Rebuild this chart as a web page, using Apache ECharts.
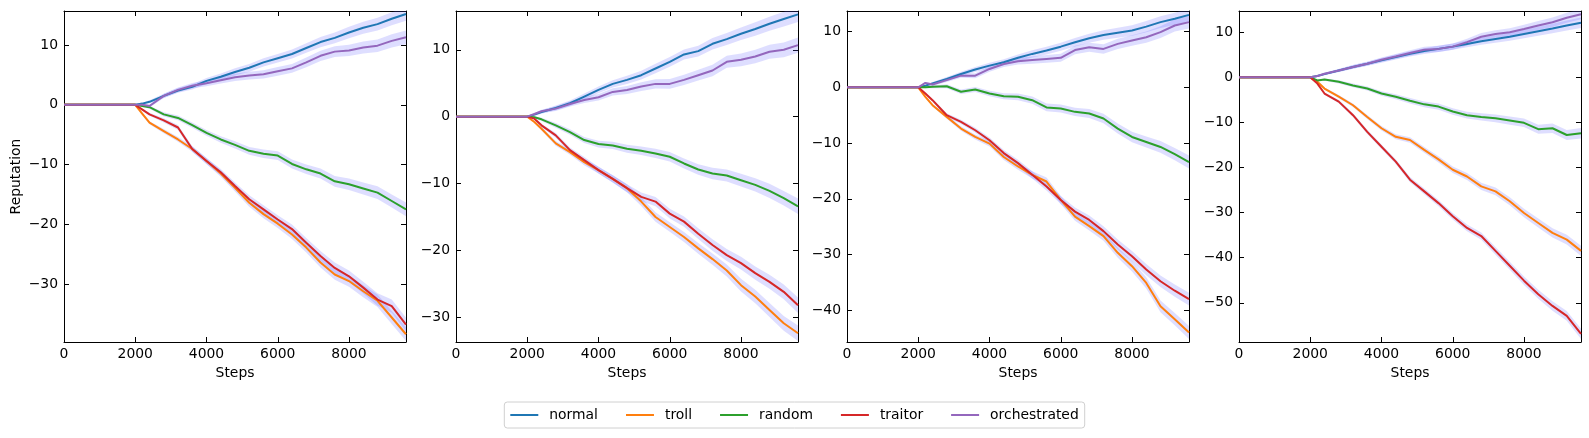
<!DOCTYPE html>
<html><head><meta charset="utf-8">
<script src="https://cdn.jsdelivr.net/npm/echarts@6/dist/echarts.min.js"></script>
<style>html,body{margin:0;padding:0;background:#fff}#c{width:1589px;height:438px}</style>
</head><body><div id="c"></div>
<script>
const steps = [0,2000,2200,2400,2800,3200,3600,4000,4400,4800,5200,5600,6000,6400,6800,7200,7600,8000,8400,8800,9200,9600];
const spread = [0,0,0.15,0.25,0.35,0.4,0.45,0.5,0.55,0.6,0.65,0.7,0.72,0.75,0.8,0.85,0.9,0.95,1.0,1.05,1.1,1.15];
const seriesNames = ['normal','troll','random','traitor','orchestrated'];
const colors = ['#1f77b4','#ff7f0e','#2ca02c','#d62728','#9467bd'];

// Panel 1
const normal1 = [0,0,0.2,0.5,1.5,2.4,3.0,4.0,4.7,5.5,6.2,7.1,7.8,8.5,9.5,10.5,11.2,12.1,12.9,13.5,14.4,15.2];
const troll1 = [0,0,-1.5,-3.0,-4.4,-5.8,-7.4,-9.4,-11.5,-13.9,-16.4,-18.3,-19.9,-21.7,-23.9,-26.4,-28.4,-29.5,-31.2,-32.8,-35.6,-38.4];
const random1 = [0,0,-0.2,-0.4,-1.6,-2.2,-3.4,-4.7,-5.8,-6.7,-7.7,-8.2,-8.5,-9.9,-10.8,-11.5,-12.8,-13.3,-14.0,-14.7,-16.1,-17.5];
const traitor1 = [0,0,-0.8,-1.6,-2.6,-3.8,-7.4,-9.4,-11.3,-13.6,-15.8,-17.5,-19.2,-20.8,-23.1,-25.3,-27.3,-28.7,-30.6,-32.6,-33.7,-36.8];
const orch1 = [0,0,0,-0.2,1.5,2.5,3.2,3.6,4.1,4.6,4.9,5.1,5.6,6.1,7.1,8.2,8.9,9.1,9.6,9.9,10.7,11.3];
// Panel 2
const normal2 = [0,0,0.3,0.7,1.3,2.0,3.0,4.0,4.9,5.5,6.2,7.2,8.2,9.3,9.8,10.9,11.6,12.4,13.1,13.9,14.6,15.3];
const troll2 = [0,0,-0.8,-1.8,-4.0,-5.3,-6.8,-8.0,-9.3,-10.7,-12.7,-15.0,-16.5,-18.0,-19.7,-21.3,-23.0,-25.2,-26.9,-28.9,-30.9,-32.4];
const random2 = [0,0,-0.1,-0.4,-1.3,-2.3,-3.5,-4.1,-4.3,-4.8,-5.1,-5.5,-6.0,-7.0,-7.9,-8.5,-8.8,-9.5,-10.2,-11.1,-12.2,-13.4];
const traitor2 = [0,0,-0.3,-1.3,-2.8,-5.0,-6.5,-8.0,-9.3,-10.7,-12.0,-12.7,-14.5,-15.7,-17.5,-19.2,-20.7,-21.9,-23.4,-24.7,-26.2,-28.2];
const orch2 = [0,0,0.4,0.8,1.2,1.9,2.5,2.9,3.7,4.0,4.5,4.9,4.9,5.5,6.2,6.9,8.2,8.5,9.0,9.7,10.0,10.7];
// Panel 3
const normal3 = [0,0,0.3,0.7,1.5,2.4,3.2,3.9,4.5,5.3,6.0,6.6,7.3,8.1,8.8,9.4,9.8,10.2,10.9,11.7,12.3,13.0];
const troll3 = [0,0,-1.7,-3.2,-5.3,-7.4,-8.9,-10.1,-12.5,-14.2,-15.7,-16.9,-20.2,-23.2,-24.9,-26.7,-29.7,-32.1,-35.1,-39.3,-41.6,-44.0];
const random3 = [0,0,0,0.1,0.2,-0.8,-0.4,-1.1,-1.6,-1.7,-2.3,-3.6,-3.8,-4.4,-4.7,-5.6,-7.4,-8.9,-9.8,-10.7,-12.0,-13.4];
const traitor3 = [0,0,-1.1,-2.3,-5.0,-6.2,-7.7,-9.5,-11.8,-13.6,-15.7,-17.8,-20.2,-22.3,-23.8,-25.8,-28.2,-30.3,-32.7,-34.8,-36.5,-38.0];
const orch3 = [0,0,0.8,0.5,1.3,2.1,2.1,3.3,4.2,4.7,4.9,5.1,5.3,6.7,7.2,6.9,7.8,8.4,9.0,9.9,11.1,11.7];
// Panel 4
const normal4 = [0,0,0.3,0.7,1.5,2.3,3.0,3.75,4.5,5.2,5.8,6.3,6.8,7.4,8.0,8.5,9.0,9.6,10.2,10.8,11.5,12.1];
const troll4 = [0,0,-1.0,-2.5,-4.3,-6.2,-8.8,-11.3,-13.2,-13.9,-16.1,-18.2,-20.5,-22.0,-24.2,-25.3,-27.5,-30.1,-32.3,-34.5,-36.0,-38.5];
const random4 = [0,0,-0.7,-0.5,-1.0,-1.8,-2.5,-3.6,-4.3,-5.2,-6.0,-6.5,-7.6,-8.4,-8.8,-9.1,-9.6,-10.1,-11.5,-11.3,-12.8,-12.4];
const traitor4 = [0,0,-1.4,-3.6,-5.4,-8.4,-12.1,-15.4,-18.7,-22.7,-25.3,-27.9,-30.8,-33.4,-35.2,-38.5,-41.8,-45.1,-48.1,-50.7,-52.9,-56.9];
const orch4 = [0,0,0.3,0.8,1.5,2.3,3.0,3.9,4.6,5.4,6.1,6.3,6.8,7.8,9.0,9.6,10.0,10.7,11.5,12.2,13.2,14.0];

const panels = [
  [normal1, troll1, random1, traitor1, orch1],
  [normal2, troll2, random2, traitor2, orch2],
  [normal3, troll3, random3, traitor3, orch3],
  [normal4, troll4, random4, traitor4, orch4]
];
const yMins = [-39.7, -33.7, -45.7, -58.7];
const yMaxs = [15.7, 15.8, 13.7, 14.7];
const xMax = 9600;
const gridLefts = [64, 456, 847, 1239];
const gridWidth = 342, gridTop = 11, gridHeight = 331;

const FONT = 'DejaVu Sans';
const FS = 13.9;
const bandColor = 'rgba(90,90,255,0.2)';
const fmtNum = v => (v < 0 ? '\u2212' + Math.abs(v) : String(v));

const grid = [], xAxis = [], yAxis = [], series = [];
panels.forEach((pdata, g) => {
  grid.push({left: gridLefts[g], top: gridTop, width: gridWidth, height: gridHeight, containLabel: false});
  const axLine = {show: true, onZero: false, lineStyle: {color: '#000', width: 1}};
  const tick = {show: true, inside: true, length: 5, lineStyle: {color: '#000', width: 1}};
  xAxis.push({
    type: 'value', gridIndex: g, min: 0, max: xMax, interval: 2000, position: 'bottom',
    axisLine: axLine, axisTick: tick, splitLine: {show: false},
    axisLabel: {color: '#000', fontFamily: FONT, fontSize: FS, margin: 5,
      formatter: v => (v % 2000 === 0 ? fmtNum(v) : '')},
    name: 'Steps', nameLocation: 'middle', nameGap: 22,
    nameTextStyle: {color: '#000', fontFamily: FONT, fontSize: FS}
  });
  xAxis.push({
    type: 'value', gridIndex: g, min: 0, max: xMax, interval: 2000, position: 'top',
    axisLine: axLine, axisTick: tick, splitLine: {show: false}, axisLabel: {show: false}
  });
  const yBase = {type: 'value', gridIndex: g, min: yMins[g], max: yMaxs[g], splitNumber: 5,
    axisLine: axLine, axisTick: tick, splitLine: {show: false}};
  yAxis.push(Object.assign({}, yBase, {
    position: 'left',
    axisLabel: {color: '#000', fontFamily: FONT, fontSize: FS, margin: 6,
      formatter: v => (Math.abs(v % 10) < 1e-9 ? fmtNum(Math.round(v)) : '')},
    name: g === 0 ? 'Reputation' : '', nameLocation: 'middle', nameGap: 41,
    nameTextStyle: {color: '#000', fontFamily: FONT, fontSize: FS}
  }));
  yAxis.push(Object.assign({}, yBase, {position: 'right', axisLabel: {show: false}}));

  // bands
  pdata.forEach((vals) => {
    const pts = steps.map((s, i) => [s, vals[i] - spread[i], vals[i] + spread[i]]);
    series.push({
      type: 'custom', xAxisIndex: g * 2, yAxisIndex: g * 2, silent: true, z: 1,
      data: pts, encode: {x: 0, y: [1, 2]}, clip: true,
      renderItem: (params, api) => {
        if (params.dataIndex !== 0) return;
        const upper = pts.map(p => api.coord([p[0], p[2]]));
        const lower = pts.map(p => api.coord([p[0], p[1]])).reverse();
        return {type: 'polygon', shape: {points: upper.concat(lower)}, style: {fill: bandColor}};
      }
    });
  });
  // lines
  pdata.forEach((vals, k) => {
    series.push({
      type: 'line', name: seriesNames[k], xAxisIndex: g * 2, yAxisIndex: g * 2, z: 3,
      data: steps.map((s, i) => [s, vals[i]]),
      showSymbol: false, symbol: 'none', silent: true, animation: false,
      lineStyle: {color: colors[k], width: 2}, itemStyle: {color: colors[k]}
    });
  });
});

const chart = echarts.init(document.getElementById('c'), null, {renderer: 'canvas'});
chart.setOption({
  animation: false,
  backgroundColor: '#fff',
  grid, xAxis, yAxis, series,
  legend: {
    data: seriesNames, left: 'center', top: 402,
    icon: 'rect', itemWidth: 28, itemHeight: 2, itemGap: 28,
    borderColor: '#d0d0d0', borderWidth: 1, borderRadius: 3, padding: [6, 6, 6, 6],
    textStyle: {color: '#000', fontFamily: FONT, fontSize: FS, padding: [0, 0, 0, 6]}
  }
});
</script></body></html>
